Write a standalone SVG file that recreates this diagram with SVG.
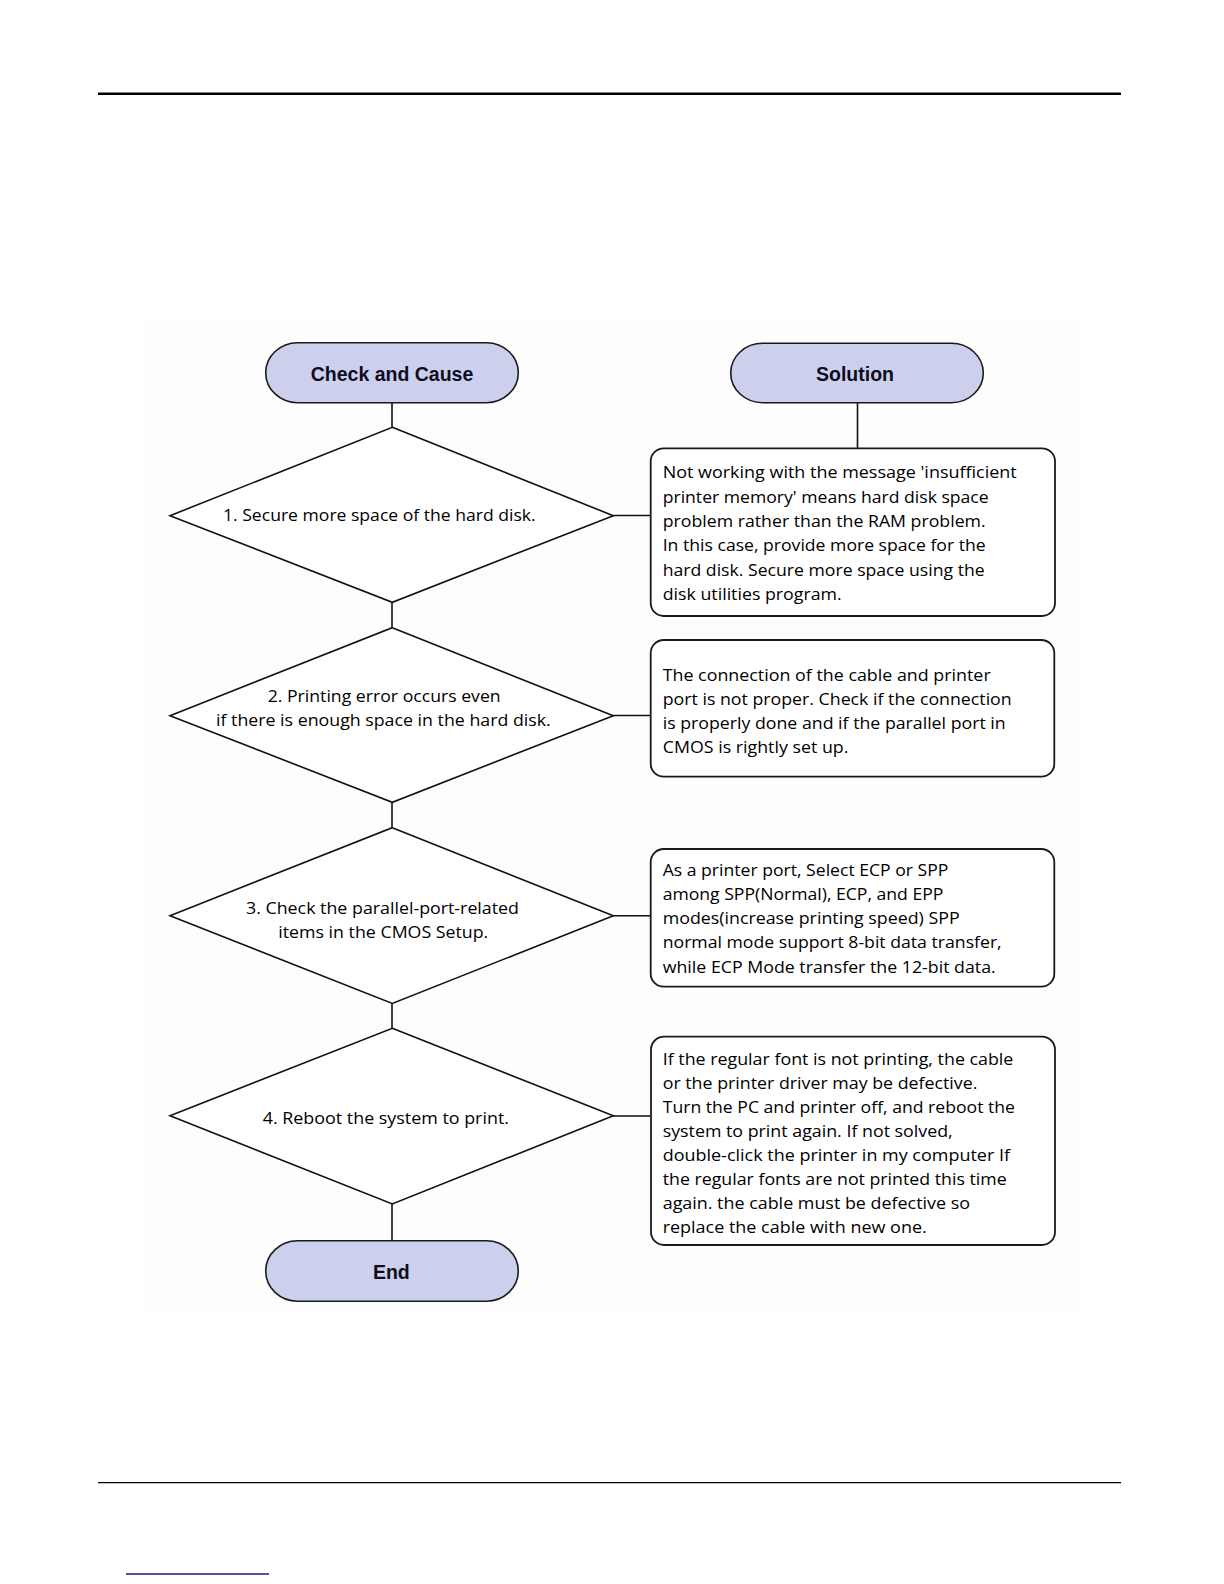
<svg xmlns="http://www.w3.org/2000/svg" width="1224" height="1584" viewBox="0 0 1224 1584">
<style>
.pill{fill:#cdd0ec;stroke:#1a1a1a;stroke-width:1.6}
.pt{font-family:"Liberation Sans",Arial,sans-serif;font-weight:bold;font-size:19.5px;fill:#0d0d22;text-anchor:middle}
.dia{fill:#ffffff;stroke:#111;stroke-width:1.6}
.box{fill:#ffffff;stroke:#1a1a1a;stroke-width:1.8}
.t{font-family:"Open Sans","Noto Sans",sans-serif;font-size:17.2px;fill:#000}
.con line{stroke:#111;stroke-width:1.6}
</style>
<rect x="0" y="0" width="1224" height="1584" fill="#ffffff"/>
<line x1="98" y1="93.8" x2="1121" y2="93.8" stroke="#000" stroke-width="2.4"/>
<line x1="98" y1="1482.6" x2="1121" y2="1482.6" stroke="#000" stroke-width="1.2"/>
<line x1="126" y1="1574" x2="269" y2="1574" stroke="#1a1a7a" stroke-width="1.5"/>
<rect x="143" y="318" width="936" height="994" fill="#fdfdfd"/>

<g id="connectors" class="con">
<line x1="392" y1="402.7" x2="392" y2="427.3"/>
<line x1="392" y1="602.3" x2="392" y2="627.7"/>
<line x1="392" y1="802.3" x2="392" y2="827.7"/>
<line x1="392" y1="1003.5" x2="392" y2="1028.3"/>
<line x1="392" y1="1204" x2="392" y2="1240.7"/>
<line x1="857.5" y1="402.7" x2="857.5" y2="448.3"/>
<line x1="613.3" y1="515.5" x2="650.7" y2="515.5"/>
<line x1="613.3" y1="715.5" x2="650.7" y2="715.5"/>
<line x1="613.3" y1="915.7" x2="650.7" y2="915.7"/>
<line x1="613.3" y1="1116" x2="650.7" y2="1116"/>
</g>

<g id="check-and-cause">
<rect class="pill" x="265.7" y="342.7" width="252.6" height="60" rx="32" ry="30"/>
<text class="pt" x="392" y="380.7">Check and Cause</text>
</g>
<g id="solution">
<rect class="pill" x="730.7" y="343.3" width="252.6" height="59.4" rx="32" ry="29.7"/>
<text class="pt" x="855" y="380.7">Solution</text>
</g>
<g id="end">
<rect class="pill" x="265.7" y="1240.7" width="252.6" height="60.6" rx="32" ry="30.3"/>
<text class="pt" x="391.3" y="1279">End</text>
</g>

<g id="step1">
<polygon class="dia" points="392.3,427.3 613.3,515.7 392.3,602.3 170,515.7"/>
<text class="t" x="223" y="520.7" textLength="312.7" lengthAdjust="spacingAndGlyphs">1. Secure more space of the hard disk.</text>
</g>
<g id="step2">
<polygon class="dia" points="392.3,627.7 613.3,715.7 392.3,802.3 170,715.7"/>
<text class="t" x="267.7" y="701.7" textLength="233" lengthAdjust="spacingAndGlyphs">2. Printing error occurs even</text>
<text class="t" x="216" y="726" textLength="334.7" lengthAdjust="spacingAndGlyphs">if there is enough space in the hard disk.</text>
</g>
<g id="step3">
<polygon class="dia" points="392.3,827.7 613.3,915.7 392.3,1003.5 170,915.7"/>
<text class="t" x="246" y="914.3" textLength="273" lengthAdjust="spacingAndGlyphs">3. Check the parallel-port-related</text>
<text class="t" x="278.3" y="938" textLength="210" lengthAdjust="spacingAndGlyphs">items in the CMOS Setup.</text>
</g>
<g id="step4">
<polygon class="dia" points="392.3,1028.3 613.3,1115.7 392.3,1204 170,1115.7"/>
<text class="t" x="262.7" y="1124.3" textLength="246.3" lengthAdjust="spacingAndGlyphs">4. Reboot the system to print.</text>
</g>

<g id="solution1">
<rect class="box" x="650.7" y="448.3" width="404.3" height="167.7" rx="13"/>
<text class="t" x="662.7" y="478.3" textLength="354" lengthAdjust="spacingAndGlyphs">Not working with the message 'insufficient</text>
<text class="t" x="662.7" y="502.7" textLength="326" lengthAdjust="spacingAndGlyphs">printer memory' means hard disk space</text>
<text class="t" x="662.7" y="527" textLength="323" lengthAdjust="spacingAndGlyphs">problem rather than the RAM problem.</text>
<text class="t" x="662.7" y="551.3" textLength="323" lengthAdjust="spacingAndGlyphs">In this case, provide more space for the</text>
<text class="t" x="662.7" y="575.5" textLength="322" lengthAdjust="spacingAndGlyphs">hard disk. Secure more space using the</text>
<text class="t" x="662.7" y="599.5" textLength="179" lengthAdjust="spacingAndGlyphs">disk utilities program.</text>
</g>
<g id="solution2">
<rect class="box" x="650.7" y="640" width="403.6" height="136.7" rx="13"/>
<text class="t" x="662.7" y="681" textLength="328" lengthAdjust="spacingAndGlyphs">The connection of the cable and printer</text>
<text class="t" x="662.7" y="705" textLength="349" lengthAdjust="spacingAndGlyphs">port is not proper. Check if the connection</text>
<text class="t" x="662.7" y="729.3" textLength="343" lengthAdjust="spacingAndGlyphs">is properly done and if the parallel port in</text>
<text class="t" x="662.7" y="752.7" textLength="185.7" lengthAdjust="spacingAndGlyphs">CMOS is rightly set up.</text>
</g>
<g id="solution3">
<rect class="box" x="650.7" y="849" width="403.6" height="137.7" rx="13"/>
<text class="t" x="662.7" y="875.7" textLength="285.7" lengthAdjust="spacingAndGlyphs">As a printer port, Select ECP or SPP</text>
<text class="t" x="662.7" y="900" textLength="280.7" lengthAdjust="spacingAndGlyphs">among SPP(Normal), ECP, and EPP</text>
<text class="t" x="662.7" y="924.3" textLength="297" lengthAdjust="spacingAndGlyphs">modes(increase printing speed) SPP</text>
<text class="t" x="662.7" y="948.3" textLength="339" lengthAdjust="spacingAndGlyphs">normal mode support 8-bit data transfer,</text>
<text class="t" x="662.7" y="972.7" textLength="333" lengthAdjust="spacingAndGlyphs">while ECP Mode transfer the 12-bit data.</text>
</g>
<g id="solution4">
<rect class="box" x="651" y="1036.7" width="404" height="208.3" rx="13"/>
<text class="t" x="662.7" y="1065" textLength="350.7" lengthAdjust="spacingAndGlyphs">If the regular font is not printing, the cable</text>
<text class="t" x="662.7" y="1089" textLength="314.7" lengthAdjust="spacingAndGlyphs">or the printer driver may be defective.</text>
<text class="t" x="662.7" y="1113.1" textLength="352.3" lengthAdjust="spacingAndGlyphs">Turn the PC and printer off, and reboot the</text>
<text class="t" x="662.7" y="1137.1" textLength="290" lengthAdjust="spacingAndGlyphs">system to print again. If not solved,</text>
<text class="t" x="662.7" y="1161.2" textLength="347.3" lengthAdjust="spacingAndGlyphs">double-click the printer in my computer If</text>
<text class="t" x="662.7" y="1185.2" textLength="344" lengthAdjust="spacingAndGlyphs">the regular fonts are not printed this time</text>
<text class="t" x="662.7" y="1209.2" textLength="307.3" lengthAdjust="spacingAndGlyphs">again. the cable must be defective so</text>
<text class="t" x="662.7" y="1233.3" textLength="264" lengthAdjust="spacingAndGlyphs">replace the cable with new one.</text>
</g>
</svg>
